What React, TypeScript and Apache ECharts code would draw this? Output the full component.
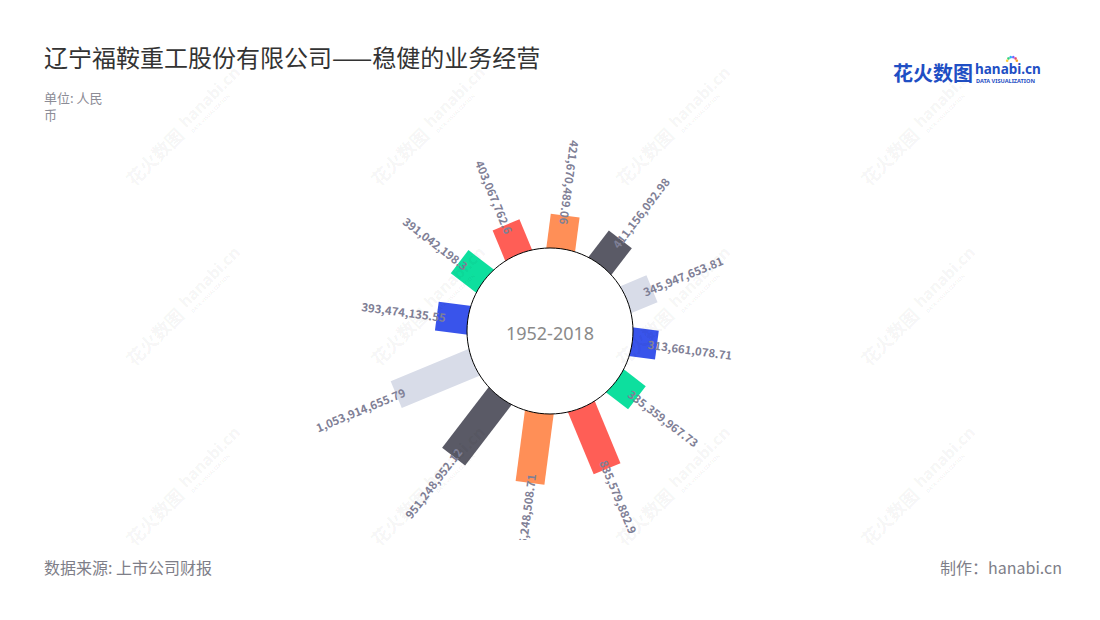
import React, { useEffect, useRef } from "react";
import * as echarts from "echarts";

// ---------- data ----------
const TITLE = "辽宁福鞍重工股份有限公司——稳健的业务经营";
const UNIT = "单位: 人民\n币";
const SOURCE = "数据来源: 上市公司财报";
const CREDIT = "制作：hanabi.cn";
const CENTER_LABEL = "1952-2018";

const categories = ["1", "2", "3", "4", "5", "6", "7", "8", "9", "10", "11", "12"];
const values = [
  421670489.06, 411156092.98, 345947653.81, 313661078.71, 335359967.73, 835579882.9,
  886248508.71, 951248952.12, 1053914655.79, 393474135.55, 391042198.3, 403067762.6,
];
const palette = ["#FF8F57", "#5A5A66", "#D8DCE8", "#3954EB", "#0DDF9E", "#FF5E56"];

// ---------- style ----------
const POLAR_TOP = 120;
const CENTER_Y = 211;
const INNER_R = 83;
const OUTER_R = 178;
const BAR_W = 29;
const LABEL_COLOR = "#7F8096";
const FONT = '"Noto Sans", "Noto Sans CJK SC", sans-serif';
const CJK = '"Noto Sans CJK SC", "Noto Sans", sans-serif';

const fmt = (v: number) => v.toLocaleString("en-US", { maximumFractionDigits: 2 });

function watermarkTiles() {
  const out: any[] = [];
  const xs = [135, 380, 625, 870];
  const ys = [188, 368, 548];
  const c = "rgba(0,0,0,0.055)";
  ys.forEach((y) =>
    xs.forEach((x) => {
      out.push({
        type: "group",
        x,
        y,
        rotation: Math.PI / 4,
        z: 100,
        silent: true,
        children: [
          { type: "text", x: 0, y: 0, style: { text: "花火数图", fill: c, font: `bold 18px ${CJK}`, textVerticalAlign: "bottom", verticalAlign: "bottom" } },
          { type: "text", x: 78, y: -4, style: { text: "hanabi.cn", fill: c, font: `bold 16px ${FONT}`, textVerticalAlign: "bottom", verticalAlign: "bottom" } },
          { type: "text", x: 80, y: 3, style: { text: "DATA VISUALIZATION", fill: c, font: `bold 5px ${FONT}`, textVerticalAlign: "bottom", verticalAlign: "bottom" } },
        ],
      });
    })
  );
  return out;
}

export default function App() {
  const polarRef = useRef<HTMLDivElement>(null);
  const topRef = useRef<HTMLDivElement>(null);

  useEffect(() => {
    const polar = echarts.init(polarRef.current!, undefined, { renderer: "svg" });
    const top = echarts.init(topRef.current!, undefined, { renderer: "svg" });

    polar.setOption({
      animation: false,
      polar: { center: ["50%", CENTER_Y], radius: [INNER_R, OUTER_R] },
      angleAxis: {
        type: "category",
        data: categories,
        startAngle: 97.5,
        clockwise: true,
        axisLine: { show: false },
        axisTick: { show: false },
        axisLabel: { show: false },
        splitLine: { show: false },
      },
      radiusAxis: { type: "value", min: 0, max: 1.2e9, show: false },
      series: [
        {
          type: "custom",
          coordinateSystem: "polar",
          data: values.map((v, i) => [v, i]),
          renderItem: (params: any, api: any) => {
            const v = api.value(0);
            const idx = api.value(1);
            const p0 = api.coord([0, idx]);
            const p1 = api.coord([v, idx]);
            let ux = p1[0] - p0[0];
            let uy = p1[1] - p0[1];
            const len = Math.hypot(ux, uy) || 1;
            ux /= len;
            uy /= len;
            const nx = -uy;
            const ny = ux;
            const hw = BAR_W / 2;
            const s = [p0[0] - ux * 6, p0[1] - uy * 6];
            const points = [
              [s[0] + nx * hw, s[1] + ny * hw],
              [p1[0] + nx * hw, p1[1] + ny * hw],
              [p1[0] - nx * hw, p1[1] - ny * hw],
              [s[0] - nx * hw, s[1] - ny * hw],
            ];
            const theta = ((Math.atan2(ux, -uy) * 180) / Math.PI + 360) % 360;
            const inward = theta < 15 || theta >= 180;
            const phi = Math.atan2(-uy, ux);
            const ax = p1[0] - ux * 9;
            const ay = p1[1] - uy * 9;
            const align = inward ? "right" : "left";
            return {
              type: "group",
              children: [
                { type: "polygon", shape: { points }, style: { fill: palette[idx % palette.length] } },
                {
                  type: "text",
                  x: ax,
                  y: ay,
                  rotation: inward ? phi + Math.PI : phi,
                  z2: 20,
                  style: {
                    text: fmt(v),
                    align,
                    textAlign: align,
                    verticalAlign: "middle",
                    textVerticalAlign: "middle",
                    fill: LABEL_COLOR,
                    font: `bold 11.4px ${CJK}`,
                  },
                },
              ],
            };
          },
        },
      ],
      graphic: [
        {
          type: "circle",
          z: 50,
          shape: { cx: 550, cy: CENTER_Y, r: INNER_R },
          style: { fill: "#fff", stroke: "#000", lineWidth: 1 },
        },
        {
          type: "text",
          z: 51,
          x: 550,
          y: CENTER_Y + 2,
          style: {
            text: CENTER_LABEL,
            fill: "#8A8A8A",
            font: `18px ${FONT}`,
            align: "center",
            textAlign: "center",
            verticalAlign: "middle",
            textVerticalAlign: "middle",
          },
        },
      ],
    });

    const logoDots = ["#F5A623", "#E94B6A", "#7B61FF", "#2BB3F3", "#2ED47A", "#FFCE3D"].map((c, i) => {
      const a = (-Math.PI * (i + 0.5)) / 6;
      return { type: "circle", shape: { cx: 1012 + Math.cos(a) * 5, cy: 62 + Math.sin(a) * 5, r: 1.3 }, style: { fill: c } };
    });

    top.setOption({
      animation: false,
      graphic: [
        { type: "text", x: 44, y: 56, style: { text: TITLE, fill: "#333", font: `24px ${CJK}`, textVerticalAlign: "middle", verticalAlign: "middle" } },
        { type: "text", x: 44, y: 89, style: { text: UNIT, fill: "#8C8C96", font: `13px ${CJK}`, lineHeight: 17 } },
        { type: "text", x: 44, y: 567, style: { text: SOURCE, fill: "#7E7E88", font: `16px ${CJK}`, textVerticalAlign: "middle", verticalAlign: "middle" } },
        { type: "text", x: 1062, y: 567, style: { text: CREDIT, fill: "#7E7E88", font: `16px ${CJK}`, align: "right", textAlign: "right", textVerticalAlign: "middle", verticalAlign: "middle" } },
        { type: "text", x: 893, y: 72, style: { text: "花火数图", fill: "#1F4FC4", font: `bold 20px ${CJK}`, textVerticalAlign: "middle", verticalAlign: "middle" } },
        { type: "text", x: 975, y: 68.5, style: { text: "hanabi.cn", fill: "#1F4FC4", font: `bold 13.5px ${FONT}`, textVerticalAlign: "middle", verticalAlign: "middle" } },
        { type: "text", x: 976, y: 80.5, style: { text: "DATA VISUALIZATION", fill: "#1F4FC4", font: `bold 5.6px ${FONT}`, textVerticalAlign: "middle", verticalAlign: "middle" } },
        ...logoDots,
        ...watermarkTiles(),
      ],
    });

    return () => {
      polar.dispose();
      top.dispose();
    };
  }, []);

  return (
    <div style={{ position: "fixed", left: 0, top: 0, width: 1100, height: 620, background: "#fff" }}>
      <div
        ref={polarRef}
        style={{ position: "absolute", left: 0, top: POLAR_TOP, width: 1100, height: 540 - POLAR_TOP, overflow: "hidden" }}
      />
      <div ref={topRef} style={{ position: "absolute", left: 0, top: 0, width: 1100, height: 620, pointerEvents: "none" }} />
    </div>
  );
}
